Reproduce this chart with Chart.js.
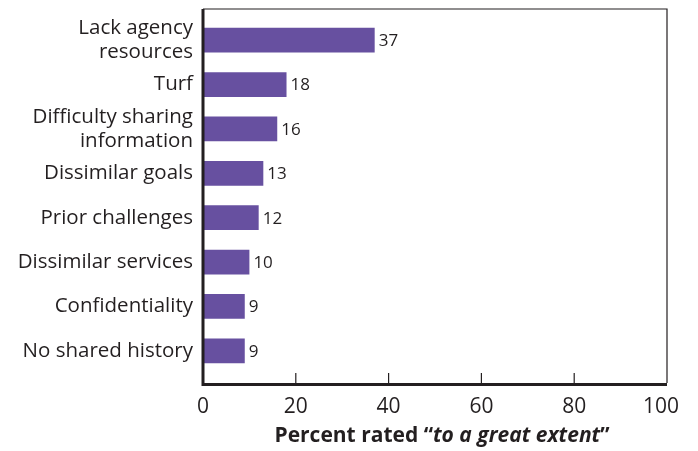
<!DOCTYPE html>
<html lang="en">
<head>
    <script src="https://cdn.jsdelivr.net/npm/chart.js"></script>
    <meta charset="UTF-8">
    <title>Barriers</title>
    <style>
        body { margin: 0; background: #fff; }
        #wrap { width: 698px; height: 451px; }
    </style>
</head>
<body>
<div id="wrap"><canvas id="chart"></canvas></div>
<script>
    // datos
    var categorias = [
        ['Lack agency', 'resources'],
        'Turf',
        ['Difficulty sharing', 'information'],
        'Dissimilar goals',
        'Prior challenges',
        'Dissimilar services',
        'Confidentiality',
        'No shared history'
    ];
    var porcentajes = [37, 18, 16, 13, 12, 10, 9, 9];
    var ticksX = [0, 20, 40, 60, 80, 100];
    var tituloX = ['Percent rated \u201C', 'to a great extent', '\u201D'];

    var colorTexto = '#231f20';
    var fuente = 'Open Sans';

    // marco, marcas y etiquetas del eje, titulo y etiquetas de valor
    var marcoPlugin = {
        id: 'marco',
        afterDatasetsDraw: function(chart) {
            var ctx = chart.ctx;
            var a = chart.chartArea;
            var x = chart.scales.x;
            var top = a.top - 9, bottom = a.bottom + 10;
            ctx.save();
            ctx.strokeStyle = colorTexto;
            ctx.lineWidth = 1.2;
            ctx.beginPath();
            ctx.moveTo(a.left, top); ctx.lineTo(a.right, top); ctx.lineTo(a.right, bottom);
            ctx.stroke();
            ctx.lineWidth = 3;
            ctx.beginPath();
            ctx.moveTo(a.left, top); ctx.lineTo(a.left, bottom + 1.5); ctx.lineTo(a.right, bottom + 1.5);
            ctx.stroke();
            ctx.lineWidth = 1.2;
            ticksX.slice(1, -1).forEach(function(v) {
                var px = x.getPixelForValue(v);
                ctx.beginPath(); ctx.moveTo(px, bottom); ctx.lineTo(px, bottom - 10); ctx.stroke();
            });
            ctx.fillStyle = colorTexto;
            ctx.textBaseline = 'middle';
            // etiquetas del eje x (la ultima queda metida hacia dentro)
            ctx.font = '21px ' + fuente;
            ticksX.forEach(function(v, i) {
                var px = x.getPixelForValue(v);
                if (i === ticksX.length - 1) {
                    ctx.textAlign = 'right';
                    px += 12;
                } else {
                    ctx.textAlign = 'center';
                }
                ctx.fillText(String(v), px, bottom + 24);
            });
            // etiquetas de valor
            var meta = chart.getDatasetMeta(0);
            ctx.font = '17px ' + fuente;
            ctx.textAlign = 'left';
            meta.data.forEach(function(bar, i) {
                ctx.fillText(String(porcentajes[i]), bar.x + 4, bar.y + 1);
            });
            // titulo del eje con parte en cursiva
            var fuentes = ['bold 21px ' + fuente, 'italic bold 21px ' + fuente, 'bold 21px ' + fuente];
            var anchos = tituloX.map(function(t, i) { ctx.font = fuentes[i]; return ctx.measureText(t).width; });
            var total = anchos.reduce(function(s, w) { return s + w; }, 0);
            var cx = (a.left + a.right) / 2 + 7;
            var px = cx - total / 2;
            var py = bottom + 53;
            tituloX.forEach(function(t, i) {
                ctx.font = fuentes[i];
                ctx.fillText(t, px, py);
                px += anchos[i];
            });
            ctx.restore();
        }
    };

    var ctx = document.getElementById('chart').getContext('2d');
    var chart = new Chart(ctx, {
        type: 'bar',
        data: {
            labels: categorias,
            datasets: [{
                data: porcentajes,
                backgroundColor: '#6750a0',
                borderWidth: 0,
                barPercentage: 0.56,
                categoryPercentage: 1
            }]
        },
        options: {
            indexAxis: 'y',
            responsive: true,
            maintainAspectRatio: false,
            animation: false,
            layout: { padding: { top: 18, right: 31, left: 0, bottom: 0 } },
            plugins: { legend: { display: false }, tooltip: { enabled: false } },
            scales: {
                x: {
                    min: 0, max: 100,
                    afterBuildTicks: function(s) { s.ticks = ticksX.map(function(v) { return { value: v }; }); },
                    afterFit: function(s) { s.height = 78; s.paddingLeft = 0; s.paddingRight = 0; },
                    grid: { display: false, drawTicks: false },
                    border: { display: false },
                    ticks: { display: false }
                },
                y: {
                    afterFit: function(s) { s.width = 203; s.paddingTop = 0; s.paddingBottom = 0; },
                    grid: { display: false, drawTicks: false },
                    border: { display: false },
                    ticks: { color: colorTexto, autoSkip: false, font: { family: fuente, size: 20.5, lineHeight: 1.17 }, padding: 10 }
                }
            }
        },
        plugins: [marcoPlugin]
    });
</script>
</body>
</html>
